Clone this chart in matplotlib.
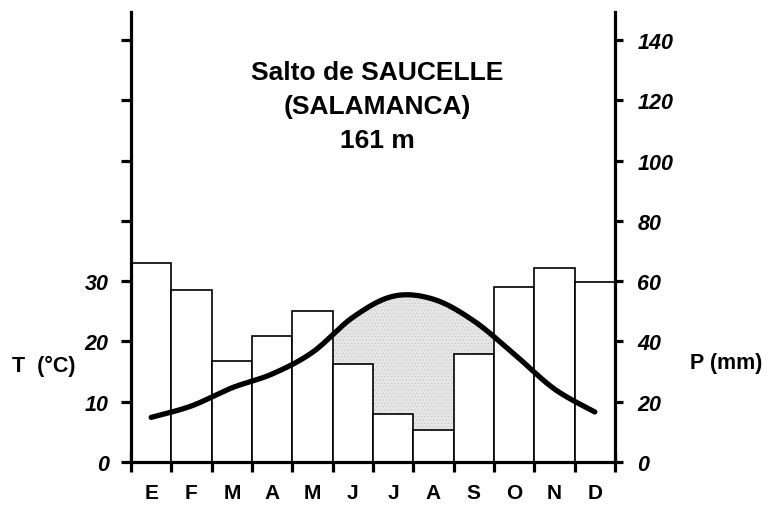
import matplotlib
matplotlib.use("Agg")
import matplotlib.pyplot as plt
import numpy as np

plt.rcParams['font.family'] = ['Liberation Sans', 'DejaVu Sans']
plt.rcParams['hatch.linewidth'] = 0.4

meses = ["E", "F", "M", "A", "M", "J", "J", "A", "S", "O", "N", "D"]
precip = [66.1, 57.1, 33.5, 41.9, 50.1, 32.5, 16.0, 10.5, 35.7, 57.9, 64.5, 59.6]
temp = [7.4, 9.3, 12.3, 14.6, 18.2, 24.0, 27.5, 27.0, 23.4, 17.9, 12.1, 8.3]
ticks_t = [0, 10, 20, 30, 40, 50, 60, 70]
etiq_t = ["0", "10", "20", "30", "", "", "", ""]
ticks_p = [0, 20, 40, 60, 80, 100, 120, 140]
titulo = "Salto de SAUCELLE\n(SALAMANCA)\n161 m"


# Curva suavizada tipo Catmull-Rom (como la línea suavizada de Excel)
def suavizar(x, y, n=200):
    x = np.asarray(x, float)
    y = np.asarray(y, float)
    px = np.concatenate([[x[0]], x, [x[-1]]])
    py = np.concatenate([[y[0]], y, [y[-1]]])
    xs, ys = [], []
    t = np.linspace(0, 1, n, endpoint=False)
    for i in range(1, len(px) - 2):
        for p, out in ((px, xs), (py, ys)):
            p0, p1, p2, p3 = p[i - 1], p[i], p[i + 1], p[i + 2]
            out.append(0.5 * (2 * p1 + (-p0 + p2) * t
                              + (2 * p0 - 5 * p1 + 4 * p2 - p3) * t ** 2
                              + (-p0 + 3 * p1 - 3 * p2 + p3) * t ** 3))
    xs.append([x[-1]])
    ys.append([y[-1]])
    return np.concatenate(xs), np.concatenate(ys)


x = np.arange(len(meses)) + 0.5
xs, ts = suavizar(x, temp)

fig = plt.figure(figsize=(7.7, 5.06), dpi=100)
ax = fig.add_axes([131 / 770, 43 / 506, 484 / 770, 450 / 506])
ax2 = ax.twinx()

# Precipitación (eje derecho)
ax.bar(x, precip, width=1.0, color="white", edgecolor="black", linewidth=1.2, zorder=2)
p_escalon = np.array(precip)[np.clip(np.floor(xs).astype(int), 0, len(meses) - 1)]
seco = 2 * ts > p_escalon
ax.fill_between(xs, 2 * ts, p_escalon, where=seco, interpolate=True,
                facecolor="#e6e6e6", edgecolor="#c4c4c4", hatch=".....",
                linewidth=0, zorder=1)
ax.set_xlim(0, 12)
ax.set_ylim(0, 149.3)

# Temperatura (eje izquierdo)
ax2.plot(xs, ts, color="black", linewidth=3.8, solid_capstyle="round")
ax2.set_ylim(0, 74.65)

ax.yaxis.tick_right()
ax2.yaxis.tick_left()

for s in ax.spines.values():
    s.set_linewidth(2.3)
ax.spines["top"].set_visible(False)
for s in ax2.spines.values():
    s.set_visible(False)

fuente = dict(fontsize=15.5, fontweight="bold", fontstyle="italic")

ax.set_yticks(ticks_p)
ax.set_yticklabels([str(v) for v in ticks_p], **fuente)
ax.tick_params(axis="y", direction="out", length=6, width=2.3, pad=10)

ax2.set_yticks(ticks_t)
ax2.set_yticklabels(etiq_t, **fuente)
ax2.tick_params(axis="y", direction="out", length=7, width=2.3, pad=9)

ax.set_xticks(np.arange(13))
ax.set_xticklabels([])
ax.set_xticks(x, minor=True)
ax.set_xticklabels(meses, minor=True, fontsize=15, fontweight="bold")
ax.tick_params(axis="x", which="major", direction="inout", length=14, width=2.3)
ax.tick_params(axis="x", which="minor", length=0, pad=15)

fig.text(12 / 770, 1 - 366 / 506, "T  (°C)", fontsize=15.5, fontweight="bold",
         ha="left", va="center")
fig.text(690 / 770, 1 - 364 / 506, "P (mm)", fontsize=15.5, fontweight="bold",
         ha="left", va="center")
fig.text(377 / 770, 1 - 107 / 506, titulo, fontsize=19, fontweight="bold",
         ha="center", va="center", linespacing=1.55)

fig.savefig("out.png", dpi=100)
